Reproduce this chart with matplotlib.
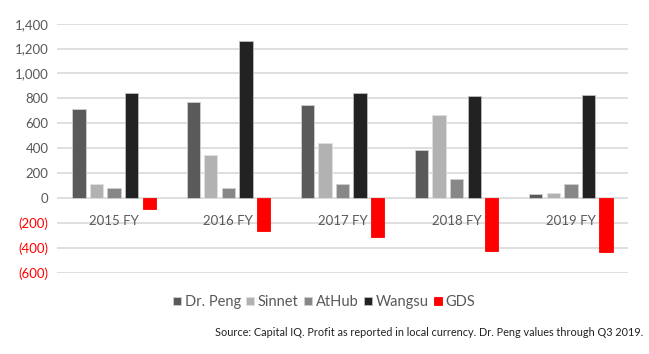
import numpy as np
import matplotlib
matplotlib.use("Agg")
import matplotlib.pyplot as plt
from matplotlib.ticker import FuncFormatter

plt.rcParams['font.family'] = ['Lato', 'DejaVu Sans']

years = ["2015 FY", "2016 FY", "2017 FY", "2018 FY", "2019 FY"]
companies = ["Dr. Peng", "Sinnet", "AtHub", "Wangsu", "GDS"]
dr_peng = [716, 767, 743, 381, 32]
sinnet = [115, 343, 440, 668, 43]
athub = [78, 78, 115, 150, 115]
wangsu = [839, 1261, 839, 815, 826]
gds = [-88, -268, -316, -424, -437]
colors = ["#5a5a5a", "#b2b2b2", "#878787", "#222222", "#ff0000"]
edges = ["#cfcfcf", "#e0e0e0", "#d0d0d0", "#bdbdbd", "#ff0000"]

series = [dr_peng, sinnet, athub, wangsu, gds]

fig = plt.figure(figsize=(6.49, 3.54), dpi=100)
ax = fig.add_axes([57 / 649, 1 - 272.5 / 354, 571 / 649, 248.8 / 354])

x = np.arange(len(years))
slot = 0.154
width = 0.116
for i, (vals, c, ec) in enumerate(zip(series, colors, edges)):
    ax.bar(x + (i - 2) * slot, vals, width, color=c, edgecolor=ec,
           linewidth=0.6, label=companies[i], zorder=3)

ax.set_xlim(-0.5, len(years) - 0.5)
ax.set_ylim(-600, 1400)
ax.set_yticks(range(-600, 1401, 200))
ax.yaxis.set_major_formatter(FuncFormatter(
    lambda v, p: f"({abs(int(v)):,})" if v < 0 else f"{int(v):,}"))
ax.grid(axis="y", color="#d9d9d9", linewidth=1.2, zorder=0)
ax.tick_params(axis="y", length=0, labelsize=9.5, labelcolor="#595959", pad=6)
for lbl, v in zip(ax.get_yticklabels(), range(-600, 1401, 200)):
    if v < 0:
        lbl.set_color("#ff0000")
ax.set_xticks([])
for s in ax.spines.values():
    s.set_visible(False)

for xi, y in zip(x, years):
    ax.annotate(y, (xi, 0), xytext=(0, -17), textcoords="offset points",
                ha="center", va="center", fontsize=9.5, color="#595959")

fig.legend(loc="center", bbox_to_anchor=(324 / 649, 1 - 302 / 354), ncol=5,
           frameon=False, fontsize=10.5, handlelength=0.55, handleheight=0.5,
           handletextpad=0.27, columnspacing=0.35, labelcolor="#595959")

fig.text(643 / 649, 1 - 333 / 354,
         "Source: Capital IQ. Profit as reported in local currency. Dr. Peng values through Q3 2019.",
         ha="right", va="center", fontsize=7.8, color="#222222")

fig.savefig("out.png", dpi=100)
